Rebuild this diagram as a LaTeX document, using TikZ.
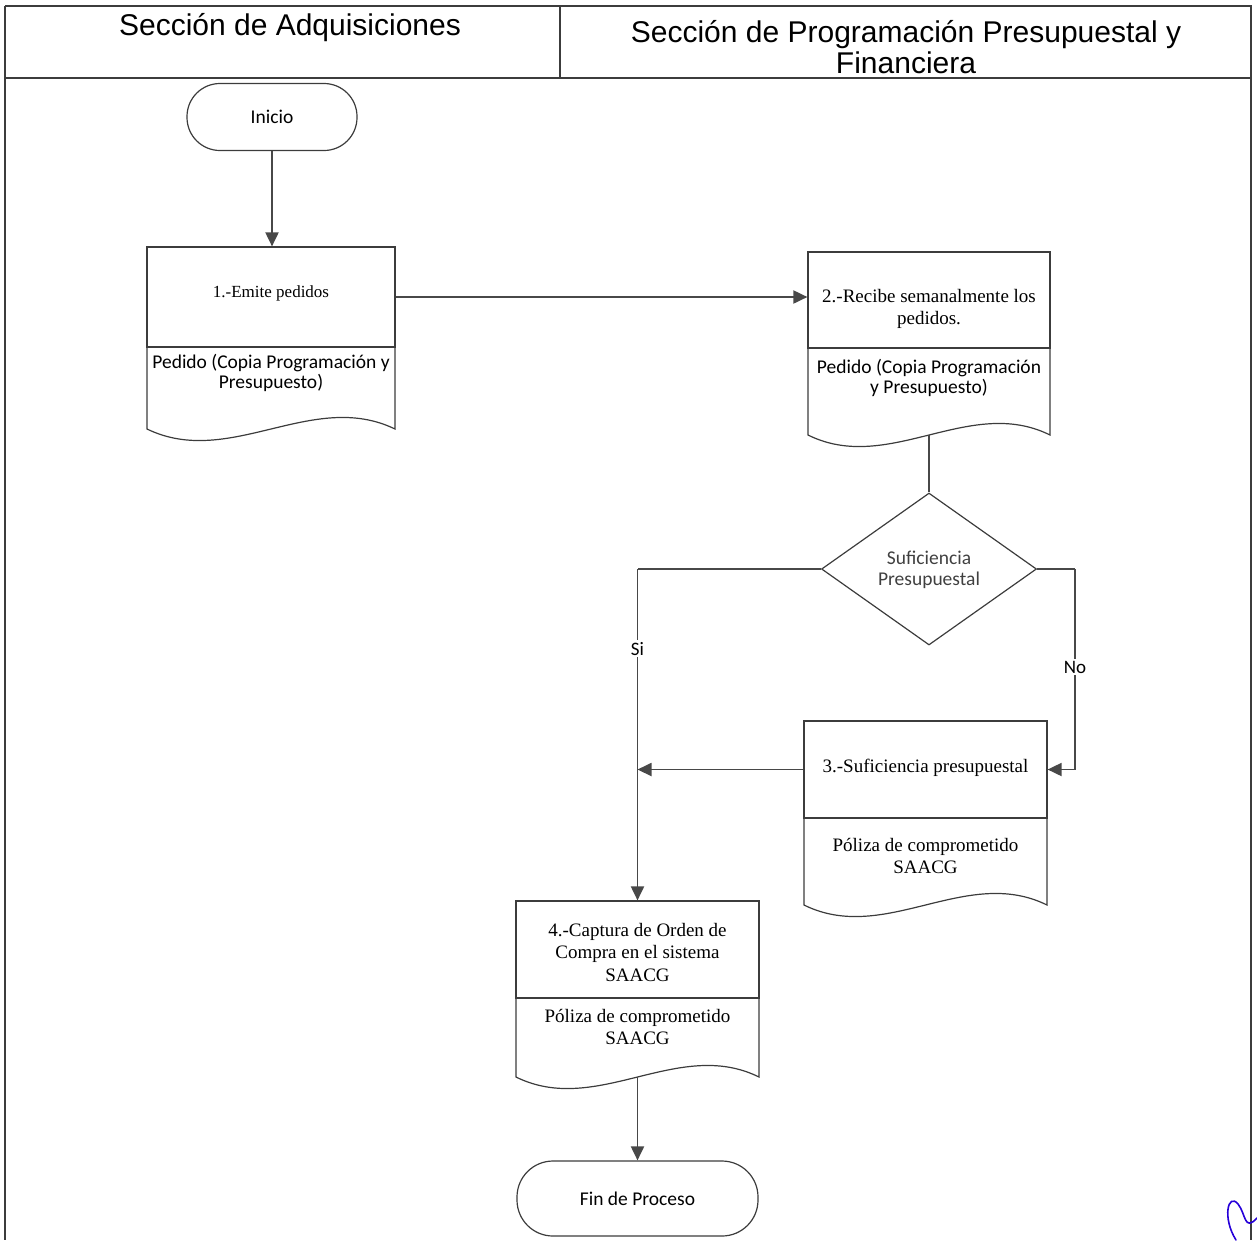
\documentclass[tikz,border=0pt]{standalone}
\usepackage{fontspec}
\setmainfont{Liberation Serif}
\newfontfamily\hdrfont{Liberation Sans}
\newfontfamily\calfont{Carlito}
\usetikzlibrary{arrows.meta,shapes.geometric,calc}
\definecolor{linegray}{HTML}{3C3C3C}
\definecolor{conngray}{HTML}{484848}
\newcommand\mydoc[5]{%
  \draw[boxline] (#1,#3) -- (#1,#4) .. controls ({#1+(#2-#1)/3},{#4+40}) and ({#1+2*(#2-#1)/3},{#4-40}) .. (#2,#4) -- (#2,#3);
  \coordinate (#5) at ({(#1+#2)/2},#4);}
\begin{document}
\begin{tikzpicture}[x=1pt,y=-1pt,
  frameline/.style={draw=linegray, line width=1.4pt},
  boxline/.style={draw=linegray, line width=1.2pt},
  procbox/.style={draw=linegray, line width=1.2pt, rectangle, inner sep=0pt},
  term/.style={draw=linegray, line width=1.2pt, rectangle, rounded corners=33pt, inner sep=0pt, font=\calfont\fontsize{19.5}{22}\selectfont},
  decision/.style={draw=linegray, line width=1.2pt, diamond, aspect=1.4, inner sep=0pt, minimum width=215pt, minimum height=152pt},
  serifbox/.style={inner sep=0pt, align=center, font=\fontsize{19}{22.5}\selectfont},
  sansbox/.style={inner sep=0pt, align=center, font=\calfont\fontsize{19.5}{20.5}\selectfont},
  hdr/.style={inner sep=0pt, align=center, font=\hdrfont\fontsize{30}{31}\selectfont},
  conn/.style={draw=conngray, line width=1.9pt, -{Triangle[length=14pt,width=13pt]}},
  link/.style={draw=conngray, line width=1.5pt},
  lbl/.style={fill=white, inner sep=2pt, font=\calfont\fontsize{19}{21}\selectfont}]
\useasboundingbox (0,0) rectangle (1257,1240);

% frame and header
\draw[frameline] (5,6) -- (1252,6);
\draw[frameline] (5,78) -- (1252,78);
\draw[frameline] (560,6) -- (560,78);
\draw[frameline] (5,6) -- (5,1240);
\draw[frameline] (1251,6) -- (1251,1240);
\node[hdr] (h1) at (290,28) {Sección de Adquisiciones};
\node[hdr] (h2) at (906,47) {Sección de Programación Presupuestal y\\Financiera};

% start
\node[term, minimum width=170pt, minimum height=67pt] (ini) at (272,117) {Inicio};

% box 1
\node[procbox, minimum width=248pt, minimum height=100pt] (p1) at (271,297) {};
\node[serifbox, font=\fontsize{17}{20}\selectfont] (t1) at (271,293) {1.-Emite pedidos};
\mydoc{147}{395}{347}{429}{w1}
\node[sansbox] (d1) at (271,373) {Pedido (Copia Programación y\\Presupuesto)};

% box 2
\node[procbox, minimum width=242pt, minimum height=96pt] (p2) at (929,300) {};
\node[serifbox] (t2) at (929,309) {2.-Recibe semanalmente los\\pedidos.};
\mydoc{808}{1050}{348}{435}{w2}
\node[sansbox] (d2) at (929,378) {Pedido (Copia Programación\\y Presupuesto)};

% decision
\node[decision] (dia) at (929,569) {};
\node[sansbox, text=black!75] (tdia) at (929,570) {Suficiencia\\Presupuestal};

% box 3
\node[procbox, minimum width=243pt, minimum height=97pt] (p3) at (925.5,769.5) {};
\node[serifbox] (t3) at (925.5,768) {3.-Suficiencia presupuestal};
\mydoc{804}{1047}{818}{905}{w3}
\node[serifbox] (d3) at (925.5,856) {Póliza de comprometido\\SAACG};

% box 4
\node[procbox, minimum width=243pt, minimum height=97pt] (p4) at (637.5,949.5) {};
\node[serifbox] (t4) at (637.5,952) {4.-Captura de Orden de\\Compra en el sistema\\SAACG};
\mydoc{516}{759}{998}{1077}{w4}
\node[serifbox] (d4) at (637.5,1027) {Póliza de comprometido\\SAACG};

% end
\node[term, minimum width=241pt, minimum height=75pt, rounded corners=36pt] (fin) at (637.5,1198.5) {Fin de Proceso};

% connectors
\draw[conn] (ini.south) -- (ini.south |- p1.north);
\draw[conn] (p1.east) -- (p1.east -| p2.west);
\draw[link] (w2) -- (dia.north);
\draw[link] (dia.west) -| (p4.north |- dia.west) coordinate (sicorner);
\draw[conn] (sicorner) -- node[lbl, pos=0.24] (si) {Si} (p4.north);
\draw[link] (dia.east) -- ++(38,0) coordinate (nocorner);
\draw[conn] (nocorner) -- node[lbl, pos=0.49] (no) {No} (nocorner |- p3.east) -- (p3.east);
\draw[conn] (p3.west) -- (p3.west -| p4.north);
\draw[conn] (w4) -- (fin.north);

% signature mark
\draw[blue!70!violet, line width=1.6pt, line cap=round]
  (1236,1240) .. controls (1222,1218) and (1228,1192) .. (1238,1204)
  .. controls (1246,1214) and (1244,1232) .. (1257,1218);
\end{tikzpicture}
\end{document}
